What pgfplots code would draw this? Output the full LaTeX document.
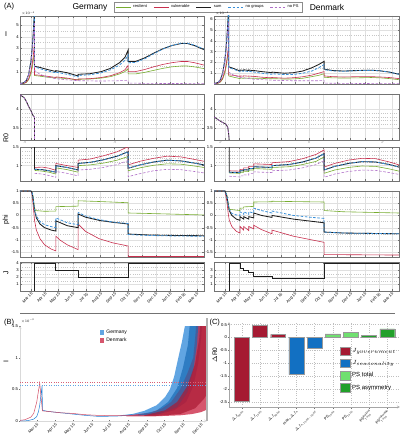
\RequirePackage{fix-cm}
\documentclass[border=0pt]{standalone}
\usepackage{pgfplots}
\pgfplotsset{compat=1.18}
\usepackage{fontspec}
\setmainfont{Liberation Sans}
\definecolor{cres}{HTML}{77AC30}
\definecolor{cvul}{HTML}{C8304E}
\definecolor{csum}{HTML}{1E1E1E}
\definecolor{cnog}{HTML}{3A90D8}
\definecolor{cnps}{HTML}{B070C8}
\definecolor{cgov}{HTML}{A51A32}
\definecolor{csea}{HTML}{1270C2}
\definecolor{cpst}{HTML}{70E070}
\definecolor{cpsa}{HTML}{22A02A}
\definecolor{bblue}{HTML}{1E7FD6}
\definecolor{bred}{HTML}{C81E3C}
\newcommand{\tk}{\fontsize{4.2}{5}\selectfont}
\pgfplotsset{
  res/.style={cres, line width=0.6pt},
  vul/.style={cvul, line width=0.6pt},
  sum/.style={csum, line width=0.85pt},
  nog/.style={cnog, line width=0.8pt, dash pattern=on 2.6pt off 1.6pt},
  nps/.style={cnps, line width=0.6pt, dash pattern=on 2.6pt off 1.6pt},
  base/.style={scale only axis, anchor=south west, no markers,
    axis line style={black!55, line width=0.35pt},
    tick style={black!55, line width=0.3pt},
    major tick length=1.5pt, minor tick length=0pt,
    tick align=inside,
    grid=both,
    major grid style={black!12, line width=0.3pt},
    minor grid style={black!22, line width=0.25pt, dotted},
    tick label style={font=\tk},
    /pgf/number format/assume math mode=true,
    yticklabel style={inner sep=1pt},
  },
  ts/.style={base, xmin=-24, xmax=381,
    xtick={0,31,61,92,122,153,184,214,245,275,306,337,365},
    xticklabels={}, minor x tick num=3},
  datelab/.style={xticklabels={Mar 15,Apr 15,May 15,Jun 15,Jul 15,Aug 15,Sep 15,Oct 15,Nov 15,Dec 15,Jan 15,Feb 15,Mar 15},
    xticklabel style={rotate=45, anchor=north east, font=\fontsize{4}{4.5}\selectfont, inner sep=0.8pt}},
}
\begin{document}
\begin{tikzpicture}
\useasboundingbox (0pt,0pt) rectangle (404pt,440pt);
% ---------------- I Germany
\begin{axis}[ts, at={(20pt,356pt)}, width=184pt, height=68pt, ymin=0, ymax=5.75, ytick={1,2,3,4,5}, minor y tick num=1,
 legend columns=5, legend style={at={(1.022,1.132)}, anchor=center, draw=black!45, line width=0.3pt,
   font=\fontsize{4}{4.5}\selectfont, inner xsep=1.5pt, inner ysep=0.6pt,
   /tikz/every even column/.append style={column sep=4.5pt}},
 legend image code/.code={\draw[#1] (0pt,0pt) -- (15pt,0pt);}]
\addplot[res] coordinates {(-24,0.01)(-15,0.05)(-10,0.13)(-5,0.37)(0,0.85)(3,1.4)(5,1.9)(7,2.5)(8,2.9)(8,0.72)(20,0.66)(35,0.58)(55,0.5)(55,0.53)(80,0.45)(104,0.35)(104,0.4)(130,0.42)(155,0.5)(175,0.62)(195,0.85)(207,1.05)(214,1.3)(214,0.85)(230,0.85)(250,0.98)(270,1.15)(290,1.32)(310,1.45)(330,1.52)(345,1.52)(360,1.45)(381,1.3)};
\addlegendentry{resilient}
\addplot[vul] coordinates {(-24,0.01)(-15,0.07)(-10,0.17)(-5,0.43)(0,1.05)(3,1.7)(5,2.3)(7,3.1)(8,3.5)(8,0.78)(20,0.74)(35,0.66)(55,0.55)(55,0.6)(80,0.5)(104,0.33)(104,0.42)(130,0.45)(155,0.55)(175,0.7)(195,0.95)(207,1.2)(214,1.57)(214,1.05)(230,1.05)(250,1.22)(270,1.45)(290,1.65)(310,1.8)(330,1.9)(345,1.9)(360,1.8)(381,1.6)};
\addlegendentry{vulnerable}
\addplot[sum] coordinates {(-24,0.02)(-15,0.12)(-10,0.3)(-5,0.8)(0,1.9)(3,3.1)(5,4.2)(7,5.6)(8,6.4)(8,1.5)(20,1.4)(35,1.24)(55,1.05)(55,1.13)(80,0.95)(104,0.68)(104,0.82)(130,0.87)(155,1.05)(175,1.32)(195,1.8)(207,2.25)(214,2.87)(214,1.9)(230,1.9)(250,2.2)(270,2.6)(290,2.97)(310,3.25)(330,3.42)(345,3.42)(360,3.25)(381,2.9)};
\addlegendentry{sum}
\addplot[nog] coordinates {(-24,0.02)(-15,0.12)(-10,0.3)(-5,0.8)(0,1.9)(3,3.1)(5,4.2)(7,5.6)(8,6.3)(8,1.45)(20,1.3)(35,1.12)(55,0.95)(55,1.0)(80,0.82)(104,0.6)(104,0.72)(130,0.78)(155,0.95)(175,1.2)(195,1.6)(207,2.0)(214,2.45)(214,1.8)(230,1.82)(250,2.12)(270,2.55)(290,2.95)(310,3.25)(330,3.45)(345,3.45)(360,3.28)(381,2.95)};
\addlegendentry{no groups}
\addplot[nps] coordinates {(-24,0.02)(-15,0.12)(-10,0.3)(-5,0.8)(0,1.8)(3,2.9)(5,3.9)(7,4.9)(8,5.2)(8,1.15)(20,0.82)(35,0.6)(55,0.45)(80,0.35)(104,0.28)(150,0.25)(190,0.27)(214,0.32)(214,0.08)(260,0.05)(320,0.04)(381,0.03)};
\addlegendentry{no PS}
\end{axis}
% ---------------- I Denmark
\begin{axis}[ts, at={(214pt,356pt)}, width=185pt, height=68pt, ymin=0, ymax=6.3, ytick={1,2,3,4,5,6}, minor y tick num=1]
\addplot[res] coordinates {(-24,0.01)(-15,0.07)(-10,0.18)(-5,0.45)(0,1.05)(3,1.7)(5,2.3)(7,3.0)(8,3.4)(8,0.75)(20,0.62)(33,0.5)(33,0.55)(41,0.53)(41,0.56)(52,0.53)(52,0.56)(63,0.52)(63,0.54)(80,0.52)(103,0.48)(103,0.5)(130,0.46)(150,0.47)(170,0.53)(190,0.68)(205,0.8)(217,0.95)(217,0.63)(235,0.57)(260,0.55)(290,0.57)(320,0.6)(340,0.57)(360,0.5)(381,0.4)};
\addplot[vul] coordinates {(-24,0.01)(-15,0.08)(-10,0.22)(-5,0.55)(0,1.25)(3,1.9)(5,2.5)(7,3.2)(8,3.6)(8,0.85)(20,0.8)(33,0.7)(33,0.75)(41,0.72)(41,0.76)(52,0.72)(52,0.74)(63,0.7)(63,0.71)(80,0.63)(103,0.57)(103,0.6)(130,0.54)(150,0.58)(170,0.67)(190,0.82)(205,1.0)(217,1.15)(217,0.75)(235,0.68)(260,0.65)(290,0.68)(320,0.68)(340,0.65)(360,0.6)(381,0.5)};
\addplot[sum] coordinates {(-24,0.02)(-15,0.15)(-10,0.4)(-5,1.0)(0,2.3)(3,3.6)(5,4.8)(7,6.2)(8,7.0)(8,1.6)(20,1.42)(33,1.2)(33,1.3)(41,1.25)(41,1.32)(52,1.25)(52,1.3)(63,1.22)(63,1.25)(80,1.15)(103,1.05)(103,1.1)(130,1.0)(150,1.05)(170,1.2)(190,1.5)(205,1.8)(217,2.1)(217,1.38)(235,1.25)(260,1.2)(290,1.25)(320,1.28)(340,1.22)(360,1.1)(381,0.9)};
\addplot[nog] coordinates {(-24,0.02)(-15,0.15)(-10,0.4)(-5,1.0)(0,2.3)(3,3.6)(5,4.8)(7,6.2)(8,6.9)(8,1.55)(20,1.35)(33,1.15)(33,1.22)(41,1.18)(41,1.22)(52,1.15)(52,1.18)(63,1.1)(63,1.12)(80,1.0)(103,0.9)(103,0.95)(130,0.88)(150,0.88)(170,1.0)(190,1.2)(205,1.5)(217,1.8)(217,1.33)(235,1.22)(260,1.18)(290,1.24)(320,1.27)(340,1.22)(360,1.1)(381,0.9)};
\addplot[nps] coordinates {(-24,0.02)(-15,0.14)(-10,0.38)(-5,0.95)(0,2.1)(3,3.3)(5,4.4)(7,5.5)(8,5.8)(8,1.1)(20,0.8)(33,0.6)(63,0.45)(103,0.35)(150,0.3)(200,0.3)(217,0.32)(217,0.08)(260,0.06)(320,0.04)(381,0.03)};
\end{axis}
% ---------------- R0 upper Germany
\begin{axis}[ts, at={(20pt,300pt)}, width=184pt, height=46pt, ymin=3.17, ymax=4.42, ytick={3.5,4}, minor y tick num=4]
\addplot[sum] coordinates {(-24,4.4)(-15,4.32)(-10,4.22)(-5,4.08)(0,3.97)(3,3.88)(5,3.83)(7,3.8)(8,3.78)(8,3.0)};
\addplot[nps] coordinates {(-24,4.4)(-15,4.32)(-10,4.22)(-5,4.08)(0,3.97)(3,3.88)(5,3.83)(7,3.8)(8,3.78)(8,3.0)};
\end{axis}
% ---------------- R0 lower Germany
\begin{axis}[ts, at={(20pt,259pt)}, width=184pt, height=34pt, ymin=0.58, ymax=1.51, ytick={1,1.5}, minor y tick num=4]
\addplot[res] coordinates {(8,0.87)(25,0.85)(40,0.82)(55,0.77)(55,0.94)(80,0.89)(104,0.82)(104,1.0)(130,1.02)(160,1.07)(190,1.15)(214,1.25)(214,0.86)(240,0.94)(270,1.01)(300,1.05)(330,1.04)(360,0.99)(381,0.95)};
\addplot[vul] coordinates {(8,0.95)(25,0.96)(40,0.93)(55,0.87)(55,1.06)(80,1.0)(104,0.95)(104,1.15)(130,1.18)(160,1.27)(190,1.38)(214,1.52)(214,1.02)(240,1.12)(270,1.2)(300,1.26)(330,1.24)(360,1.17)(381,1.12)};
\addplot[sum] coordinates {(8,1.6)(8,0.9)(25,0.89)(40,0.86)(55,0.82)(55,1.0)(80,0.95)(104,0.88)(104,1.06)(130,1.09)(160,1.16)(190,1.26)(214,1.38)(214,0.93)(240,1.02)(270,1.1)(300,1.15)(330,1.13)(360,1.07)(381,1.02)};
\addplot[nog] coordinates {(8,0.9)(25,0.89)(40,0.86)(55,0.82)(55,1.0)(80,0.95)(104,0.88)(104,1.06)(130,1.09)(160,1.16)(190,1.26)(214,1.38)(214,0.93)(240,1.02)(270,1.1)(300,1.15)(330,1.13)(360,1.07)(381,1.02)};
\addplot[nps] coordinates {(8,0.79)(25,0.77)(40,0.73)(55,0.68)(55,0.84)(80,0.79)(104,0.72)(104,0.88)(130,0.9)(160,0.95)(190,1.03)(214,1.14)(214,0.7)(240,0.78)(270,0.86)(300,0.9)(330,0.89)(360,0.84)(381,0.8)};
\end{axis}
% ---------------- R0 upper Denmark
\begin{axis}[ts, at={(214pt,300pt)}, width=185pt, height=46pt, ymin=3.17, ymax=4.42, ytick={3.5,4}, minor y tick num=4]
\addplot[sum] coordinates {(-24,3.8)(-15,3.72)(-7,3.66)(2,3.6)(6,3.52)(8,3.35)(9,3.2)(9.5,3.0)};
\addplot[nps] coordinates {(-24,3.8)(-15,3.72)(-7,3.66)(2,3.6)(6,3.52)(8,3.35)(9,3.2)(9.5,3.0)};
\end{axis}
% ---------------- R0 lower Denmark
\begin{axis}[ts, at={(214pt,259pt)}, width=185pt, height=34pt, ymin=0.58, ymax=1.51, ytick={1,1.5}, minor y tick num=4]
\addplot[res] coordinates {(9.5,0.8)(33,0.79)(33,0.82)(41,0.82)(41,0.85)(52,0.84)(52,0.88)(63,0.88)(63,0.92)(103,0.9)(103,0.95)(140,0.97)(170,1.03)(200,1.12)(217,1.24)(217,0.79)(240,0.88)(270,0.95)(300,0.99)(330,0.98)(360,0.91)(381,0.85)};
\addplot[vul] coordinates {(9.5,0.86)(33,0.85)(33,0.9)(41,0.9)(41,0.94)(52,0.94)(52,0.98)(63,0.98)(63,1.05)(103,1.03)(103,1.08)(140,1.11)(170,1.19)(200,1.31)(217,1.43)(217,0.96)(240,1.06)(270,1.15)(300,1.2)(330,1.19)(360,1.1)(381,1.02)};
\addplot[sum] coordinates {(9.5,1.6)(9.5,0.82)(33,0.81)(33,0.86)(41,0.86)(41,0.89)(52,0.88)(52,0.92)(63,0.92)(63,0.97)(103,0.95)(103,1.0)(140,1.03)(170,1.1)(200,1.21)(217,1.33)(217,0.88)(240,0.98)(270,1.06)(300,1.11)(330,1.1)(360,1.03)(381,0.96)};
\addplot[nog] coordinates {(9.5,0.82)(33,0.81)(33,0.86)(41,0.86)(41,0.89)(52,0.88)(52,0.92)(63,0.92)(63,0.97)(103,0.95)(103,1.0)(140,1.03)(170,1.1)(200,1.21)(217,1.33)(217,0.88)(240,0.98)(270,1.06)(300,1.11)(330,1.1)(360,1.03)(381,0.96)};
\addplot[nps] coordinates {(9.5,0.71)(33,0.69)(33,0.72)(41,0.72)(41,0.75)(52,0.74)(52,0.78)(63,0.78)(63,0.83)(103,0.81)(103,0.86)(140,0.88)(170,0.94)(200,1.03)(217,1.14)(217,0.68)(240,0.77)(270,0.84)(300,0.88)(330,0.87)(360,0.81)(381,0.76)};
\end{axis}
% ---------------- phi Germany
\begin{axis}[ts, at={(20pt,183pt)}, width=184pt, height=66pt, ymin=-1.7, ymax=1.0, ytick={-1.5,-1,-0.5,0,0.5,1}, minor y tick num=1]
\addplot[res] coordinates {(-24,1)(0,1)(2,0.97)(4,0.85)(6,0.6)(8,0.32)(10,0.2)(30,0.17)(55,0.18)(55,0.36)(104,0.38)(104,0.6)(150,0.57)(214,0.52)(214,0.1)(260,0.08)(320,0.05)(381,0.02)};
\addplot[vul] coordinates {(-24,1)(0,1)(2,0.9)(4,0.6)(6,0.2)(8,-0.2)(12,-0.6)(20,-0.95)(30,-1.2)(45,-1.38)(55,-1.45)(55,-0.85)(65,-1.02)(80,-1.2)(104,-1.4)(104,-0.35)(120,-0.65)(150,-0.95)(180,-1.12)(214,-1.25)(214,-1.68)(381,-1.68)};
\addplot[sum] coordinates {(-24,1)(0,1)(2,0.95)(4,0.8)(6,0.5)(8,0.2)(12,-0.1)(20,-0.35)(30,-0.5)(45,-0.6)(55,-0.64)(55,-0.22)(65,-0.3)(80,-0.42)(104,-0.5)(104,0.06)(120,-0.07)(150,-0.2)(180,-0.28)(214,-0.35)(214,-0.76)(260,-0.8)(320,-0.82)(381,-0.83)};
\addplot[nog] coordinates {(-24,1)(0,1)(2,0.96)(4,0.82)(6,0.55)(8,0.25)(12,-0.02)(20,-0.25)(30,-0.38)(45,-0.46)(55,-0.5)(55,-0.1)(65,-0.18)(80,-0.3)(104,-0.38)(104,0.12)(120,-0.02)(150,-0.17)(180,-0.27)(214,-0.33)(214,-0.78)(260,-0.82)(320,-0.84)(381,-0.85)};
\end{axis}
% ---------------- phi Denmark
\begin{axis}[ts, at={(214pt,183pt)}, width=185pt, height=66pt, ymin=-1.7, ymax=1.0, ytick={-1.5,-1,-0.5,0,0.5,1}, minor y tick num=1]
\addplot[res] coordinates {(-24,1)(0,1)(4,0.85)(7,0.5)(9.5,0.25)(33,0.2)(33,0.3)(41,0.3)(41,0.35)(63,0.37)(63,0.55)(103,0.56)(103,0.58)(217,0.55)(217,0.2)(260,0.15)(381,0.1)};
\addplot[vul] coordinates {(-24,1)(0,1)(4,0.6)(7,0.1)(9.5,-0.2)(15,-0.45)(25,-0.65)(33,-0.72)(33,-0.45)(41,-0.6)(41,-0.45)(52,-0.62)(52,-0.45)(63,-0.55)(63,-0.4)(80,-0.58)(103,-0.75)(103,-0.6)(150,-0.85)(190,-1.0)(217,-1.1)(217,-1.6)(381,-1.62)};
\addplot[sum] coordinates {(-24,1)(0,1)(4,0.8)(7,0.45)(9.5,0.2)(15,0.0)(25,-0.15)(33,-0.2)(33,-0.05)(41,-0.15)(41,-0.05)(52,-0.15)(52,-0.05)(63,-0.1)(63,0.1)(80,0.0)(103,-0.08)(103,0.0)(150,-0.15)(190,-0.24)(217,-0.3)(217,-0.68)(260,-0.72)(381,-0.75)};
\addplot[nog] coordinates {(-24,1)(0,1)(4,0.82)(7,0.5)(9.5,0.25)(15,0.08)(25,0.02)(33,0.0)(33,0.15)(41,0.05)(41,0.15)(52,0.05)(52,0.15)(63,0.1)(63,0.3)(80,0.2)(103,0.1)(103,0.18)(150,0.0)(190,-0.08)(217,-0.12)(217,-0.68)(260,-0.72)(381,-0.75)};
\end{axis}
% ---------------- J Germany
\begin{axis}[ts, datelab, at={(20pt,149pt)}, width=184pt, height=29pt, ymin=0, ymax=4.2, ytick={1,2,3,4}, minor y tick num=1]
\addplot[sum] coordinates {(-24,0)(8,0)(8,4)(55,4)(55,3)(104,3)(104,2)(214,2)(214,4)(381,4)};
\end{axis}
% ---------------- J Denmark
\begin{axis}[ts, datelab, at={(214pt,149pt)}, width=185pt, height=29pt, ymin=0, ymax=4.2, ytick={1,2,3}, minor y tick num=1]
\addplot[sum] coordinates {(-24,0)(9.5,0)(9.5,4)(33,4)(33,3.3)(41,3.3)(41,3.05)(52,3.05)(52,2.75)(63,2.75)(63,2.1)(103,2.1)(103,1.8)(217,1.8)(217,4)(381,4)};
\end{axis}
% ---------------- B
\begin{axis}[base, at={(20pt,19pt)}, width=187pt, height=95pt, xmin=-28, xmax=285, ymin=0, ymax=1.5,
  grid=none, axis x line=bottom, axis y line=left, axis line style={black!15},
  xtick={0,31,61,92,122,153,184,214,245,275},
  xticklabels={Mar 15,Apr 15,May 15,Jun 15,Jul 15,Aug 15,Sep 15,Oct 15,Nov 15,Dec 15},
  xticklabel style={rotate=45, anchor=north east, font=\fontsize{4}{4.5}\selectfont, inner sep=0.8pt},
  ytick={0,0.5,1,1.5}, yticklabels={0,0.5,1,1.5},
  legend style={at={(0.41,1.0)}, anchor=north west, draw=none, fill=none, font=\fontsize{5}{6}\selectfont, row sep=-1.5pt},
  legend cell align=left,
  legend image code/.code={\fill[#1] (0pt,-2.4pt) rectangle (4.5pt,2.4pt);}]
\addplot[draw=none, fill=bblue, fill opacity=0.7] coordinates {(140,0.09)(160,0.11)(180,0.16)(201,0.25)(215,0.38)(223,0.5)(230,0.7)(237,1.0)(243,1.25)(248,1.5)(251,1.7)(278,1.7)(275,1.3)(270,0.9)(262,0.55)(250,0.3)(230,0.17)(200,0.1)(170,0.085)(140,0.08)} -- cycle;
\addlegendentry{Germany}
\addplot[draw=none, fill=bred, fill opacity=0.75] coordinates {(150,0.085)(190,0.13)(210,0.2)(225,0.3)(240,0.5)(252,0.75)(262,1.0)(266,1.4)(268,1.7)(290,1.7)(290,0.2)(275,0.14)(260,0.11)(240,0.09)(200,0.075)(150,0.075)} -- cycle;
\addlegendentry{Denmark}
\addplot[forget plot, draw=none, fill=bblue!85!black, fill opacity=0.7] coordinates {(170,0.1)(200,0.16)(220,0.3)(235,0.52)(245,0.85)(253,1.2)(258,1.7)(272,1.7)(268,1.2)(262,0.8)(252,0.45)(235,0.22)(205,0.11)(170,0.09)} -- cycle;
\addplot[forget plot, draw=none, fill=bred!85!black, fill opacity=0.7] coordinates {(180,0.09)(215,0.17)(235,0.3)(252,0.55)(265,0.9)(272,1.3)(275,1.7)(290,1.7)(290,0.5)(280,0.35)(265,0.2)(240,0.11)(200,0.08)(180,0.08)} -- cycle;
\addplot[forget plot, bblue, line width=0.5pt] coordinates {(-28,0.0)(-15,0.005)(-5,0.03)(0,0.07)(3,0.15)(5,0.25)(7,0.4)(9,0.56)(9.5,0.17)(20,0.15)(40,0.13)(60,0.11)(80,0.09)(100,0.075)(120,0.075)(140,0.08)(160,0.1)};
\addplot[forget plot, bred!80, line width=0.5pt] coordinates {(-28,0.01)(-20,0.02)(-10,0.06)(-5,0.12)(0,0.3)(3,0.48)(5,0.6)(9.5,0.16)(20,0.15)(40,0.13)(60,0.12)(80,0.1)(100,0.09)(120,0.085)(140,0.085)(160,0.09)};
\addplot[forget plot, bred!70, line width=0.4pt, dotted] coordinates {(-28,0.61)(285,0.61)};
\addplot[forget plot, bblue!70, line width=0.4pt, dotted] coordinates {(-28,0.57)(285,0.57)};
\end{axis}
% ---------------- C
\begin{axis}[base, at={(229pt,33pt)}, width=171pt, height=85pt, xmin=0.3, xmax=9.7, ymin=-2.7, ymax=0.6,
  axis x line=bottom, axis y line=left, axis line style={black!35},
  grid=major, major grid style={black!25, line width=0.25pt, dotted},
  ybar, bar width=0.82, bar shift=0pt,
  ytick={-2.5,-2,-1.5,-1,-0.5,0,0.5},
  xtick={1,2,3,4,5,6,7,8,9},
  xticklabels={{$\Delta J_{2003}$},{$\Delta J_{1305}$},{$\Delta J_{3006}$},{max$_k\Delta J_k$},{$\Delta J_{k,1505-1007}$},{PS$_{1404}$},{PS$_{1410}$},{PS$^{\mathrm{resilient}}_{1410}$},{PS$^{\mathrm{vulnerable}}_{1410}$}},
  xticklabel style={rotate=45, anchor=north east, font=\fontsize{3.8}{4}\selectfont, inner sep=0.5pt},
  legend style={at={(0.63,0.74)}, anchor=north west, draw=none, fill=none, font=\fontsize{6}{7}\selectfont, row sep=2.5pt},
  legend cell align=left,
  legend image code/.code={\draw[#1] (0pt,-4.3pt) rectangle (10pt,4.3pt);}]
\addplot[fill=cgov, draw=black!40, line width=0.3pt] coordinates {(1,-2.49)(2,0.46)(3,0.12)};
\addlegendentry{$J_{government}$}
\addplot[fill=csea, draw=black!40, line width=0.3pt] coordinates {(4,-1.44)(5,-0.41)};
\addlegendentry{$J_{seasonality}$}
\addplot[fill=cpst, draw=black!40, line width=0.3pt] coordinates {(6,0.14)(7,0.19)};
\addlegendentry{PS total}
\addplot[fill=cpsa, draw=black!40, line width=0.3pt] coordinates {(8,0.08)(9,0.33)};
\addlegendentry{PS asymmetry}
\end{axis}
% ---------------- texts
\node[font=\fontsize{7.5}{8}\selectfont, anchor=west] at (0.5pt,433pt) {(A)};
\node[font=\fontsize{8.5}{9}\selectfont] at (90pt,432.5pt) {Germany};
\node[font=\fontsize{8.5}{9}\selectfont] at (327pt,432.5pt) {Denmark};
\node[font=\fontsize{3.5}{4}\selectfont, anchor=south west, inner sep=0.3pt] at (21pt,424pt) {$\times10^{-4}$};
\node[font=\fontsize{3.5}{4}\selectfont, anchor=south west, inner sep=0.3pt] at (215pt,424pt) {$\times10^{-4}$};
\node[font=\fontsize{7}{8}\selectfont] at (6pt,406pt) {I};
\node[font=\fontsize{7}{8}\selectfont, rotate=90] at (6pt,302pt) {R0};
\node[font=\fontsize{7}{8}\selectfont, rotate=90] at (6pt,220pt) {phi};
\node[font=\fontsize{7}{8}\selectfont, rotate=90] at (6pt,167pt) {J};
\foreach \xx in {25,115,190,220.7,309.3,382.7} {\node[font=\fontsize{4}{4}\selectfont, text=black!50, inner sep=0pt] at (\xx pt,297.5pt) {//};}
\draw[black!55, line width=0.6pt] (20pt,127pt) -- (395pt,127pt);
\node[font=\fontsize{7.5}{8}\selectfont, anchor=west] at (0.5pt,117.5pt) {(B)};
\node[font=\fontsize{3.5}{4}\selectfont, anchor=west, inner sep=0.3pt] at (20.5pt,119pt) {$\times10^{-3}$};
\draw[black!30, line width=2pt] (206.5pt,19pt) -- (206.5pt,122pt);
\node[font=\fontsize{7}{8}\selectfont, rotate=90] at (6pt,78pt) {I};
\node[font=\fontsize{7.5}{8}\selectfont, anchor=west] at (206pt,117.5pt) {(C)};
\node[font=\fontsize{6.5}{7}\selectfont, rotate=90] at (215pt,85pt) {$\Delta$R0};
\end{tikzpicture}
\end{document}
